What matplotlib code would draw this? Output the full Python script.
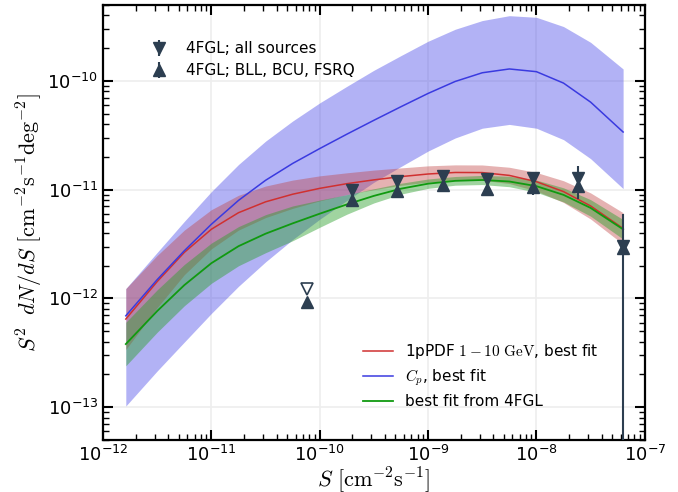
import numpy as np
import matplotlib
matplotlib.use("Agg")
import matplotlib.pyplot as plt

plt.rcParams["mathtext.fontset"] = "cm"

LOG_S = [-11.79, -11.5, -11.25, -11.0, -10.75, -10.5, -10.25, -10.0, -9.75, -9.5,
         -9.25, -9.0, -8.75, -8.5, -8.25, -8.0, -7.75, -7.5, -7.2]

# C_p best fit and band (log10 of S^2 dN/dS)
CP_MID = [-12.16, -11.827, -11.562, -11.318, -11.099, -10.914, -10.759, -10.622, -10.49, -10.362,
          -10.237, -10.115, -10.005, -9.925, -9.89, -9.915, -10.02, -10.195, -10.47]
CP_UP = [-11.91, -11.577, -11.292, -11.018, -10.769, -10.554, -10.369, -10.202, -10.05, -9.902,
         -9.767, -9.635, -9.525, -9.445, -9.40, -9.415, -9.50, -9.645, -9.89]
CP_LO = [-12.99, -12.667, -12.402, -12.138, -11.889, -11.664, -11.459, -11.272, -11.10, -10.932,
         -10.787, -10.645, -10.525, -10.435, -10.40, -10.435, -10.54, -10.715, -10.99]

# 1pPDF 1-10 GeV best fit and band
PDF_MID = [-12.19, -11.845, -11.577, -11.364, -11.212, -11.112, -11.042, -10.988, -10.945, -10.91,
           -10.88, -10.856, -10.842, -10.843, -10.869, -10.927, -11.018, -11.15, -11.357]
PDF_UP = [-11.91, -11.605, -11.372, -11.184, -11.052, -10.967, -10.912, -10.873, -10.845, -10.82,
          -10.80, -10.781, -10.772, -10.773, -10.794, -10.842, -10.918, -11.03, -11.212]
PDF_LO = [-12.47, -12.085, -11.782, -11.544, -11.372, -11.257, -11.172, -11.103, -11.045, -11.0,
          -10.96, -10.931, -10.912, -10.913, -10.944, -11.012, -11.118, -11.27, -11.502]

# best fit from 4FGL and band
FGL_MID = [-12.42, -12.116, -11.878, -11.676, -11.52, -11.405, -11.31, -11.221, -11.136, -11.057,
           -10.991, -10.945, -10.919, -10.911, -10.925, -10.968, -11.048, -11.168, -11.365]
FGL_UP = [-12.22, -11.921, -11.688, -11.491, -11.34, -11.23, -11.15, -11.096, -11.046, -10.992,
          -10.941, -10.902, -10.879, -10.869, -10.877, -10.912, -10.983, -11.092, -11.275]
FGL_LO = [-12.62, -12.311, -12.068, -11.861, -11.70, -11.58, -11.47, -11.346, -11.226, -11.122,
          -11.041, -10.988, -10.959, -10.953, -10.973, -11.024, -11.113, -11.244, -11.455]

# 4FGL data points
S_BINS = [2.0e-10, 5.2e-10, 1.36e-9, 3.5e-9, 9.2e-9, 2.4e-8, 6.3e-8]
ALL_SRC = [1.0e-11, 1.2e-11, 1.34e-11, 1.26e-11, 1.27e-11, 1.29e-11, 3.05e-12]
ALL_ERR_LO = [0.8e-12, 0.9e-12, 0.9e-12, 0.9e-12, 3.8e-12, 4.75e-12, 3.05e-12]
ALL_ERR_HI = [0.9e-12, 1.0e-12, 1.0e-12, 1.0e-12, 1.9e-12, 3.7e-12, 2.95e-12]
BLL = [8.0e-12, 9.8e-12, 1.1e-11, 1.01e-11, 1.05e-11, 1.08e-11, 2.9e-12]
BLL_ERR = [0.5e-12, 0.6e-12, 0.6e-12, 0.6e-12, 0.6e-12, 0.6e-12, 0.3e-12]
S_LOW = [7.6e-11]
ALL_LOW = [1.23e-12]
BLL_LOW = [9.3e-13]

DARK = "#2c3e50"

s = 10 ** np.array(LOG_S)
p = lambda v: 10 ** np.array(v)

fig = plt.figure(figsize=(6.78, 4.92), dpi=100)
ax = fig.add_axes([0.152, 0.106, 0.799, 0.884])

ax.fill_between(s, p(CP_LO), p(CP_UP), color="#4040e8", alpha=0.4, lw=0, zorder=1)
ax.fill_between(s, p(PDF_LO), p(PDF_UP), color="#c04040", alpha=0.4, lw=0, zorder=2)
ax.fill_between(s, p(FGL_LO), p(FGL_UP), color="#2ca02c", alpha=0.45, lw=0, zorder=3)

ax.plot(s, p(PDF_MID), color="#d03030", lw=1.1, zorder=4, label=r"1pPDF $1-10\ \mathrm{GeV}$, best fit")
ax.plot(s, p(CP_MID), color="#3a3ae0", lw=1.1, zorder=4, label=r"$C_p$, best fit")
ax.plot(s, p(FGL_MID), color="#109a10", lw=1.3, zorder=4, label="best fit from 4FGL")

h1 = ax.errorbar(S_BINS, ALL_SRC, yerr=[ALL_ERR_LO, ALL_ERR_HI], fmt="v", color=DARK,
                 ms=8, elinewidth=1.5, capsize=0, zorder=6)
h2 = ax.errorbar(S_BINS, BLL, yerr=BLL_ERR, fmt="^", color=DARK,
                 ms=8, elinewidth=1.5, capsize=0, zorder=6)
ax.plot(S_LOW, ALL_LOW, "v", mfc="white", mec=DARK, ms=8, mew=1.2, zorder=6)
ax.plot(S_LOW, BLL_LOW, "^", color=DARK, ms=8, zorder=6)

ax.set_xscale("log")
ax.set_yscale("log")
ax.set_xlim(1e-12, 1e-7)
ax.set_ylim(5e-14, 5e-10)
ax.grid(True, which="major", color="#eeeeee", lw=1.2)
ax.set_axisbelow(True)

for sp in ax.spines.values():
    sp.set_linewidth(1.6)
ax.tick_params(which="both", direction="in", top=True, right=True, labelsize=13)
ax.tick_params(which="major", length=7, width=1.5)
ax.tick_params(which="minor", length=4, width=1)

ax.set_xlabel(r"$S\ [\mathrm{cm}^{-2}\mathrm{s}^{-1}]$", fontsize=16, labelpad=0)
ax.set_ylabel(r"$S^2\;\ dN/dS\ [\mathrm{cm}^{-2}\mathrm{s}^{-1}\mathrm{deg}^{-2}]$", fontsize=16, labelpad=2)

leg1 = ax.legend([h1, h2], ["4FGL; all sources", "4FGL; BLL, BCU, FSRQ"], loc="upper left",
                 bbox_to_anchor=(0.064, 0.93), frameon=False, fontsize=11,
                 handletextpad=0.75, labelspacing=0.45, borderaxespad=0)
ax.add_artist(leg1)
ax.legend(loc="upper left", bbox_to_anchor=(0.468, 0.238), frameon=False, fontsize=11,
          labelspacing=0.4, borderaxespad=0)

fig.savefig("out.png", dpi=100)
